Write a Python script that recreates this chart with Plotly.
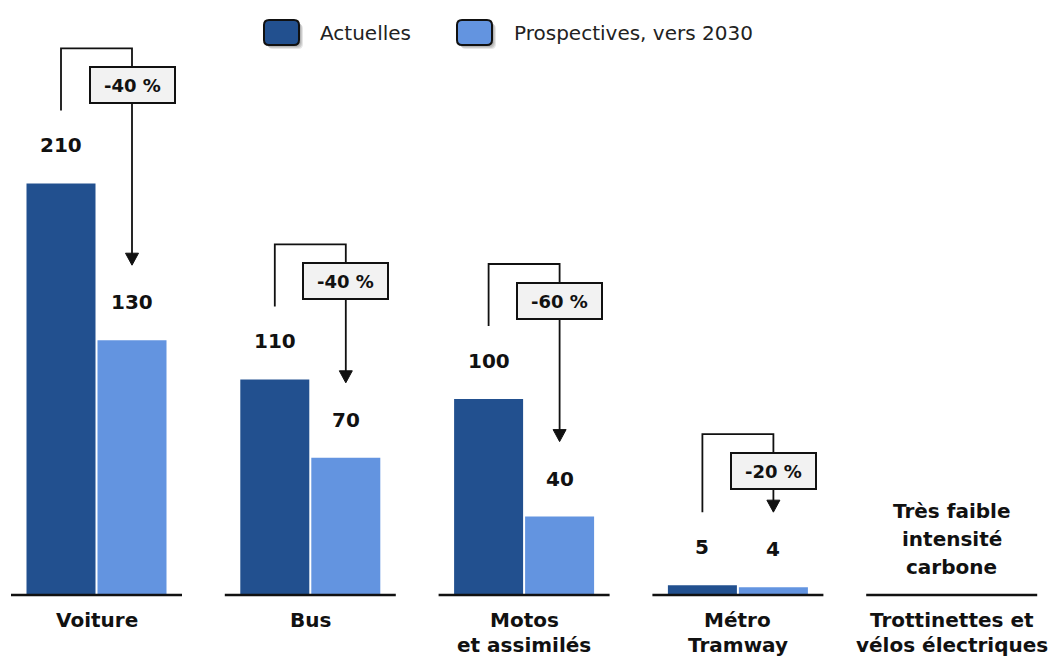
import plotly.graph_objects as go

# ---- data -------------------------------------------------------------
CATEGORIES = ["Voiture", "Bus", "Motos\net assimilés", "Métro\nTramway",
              "Trottinettes et\nvélos électriques"]
ACTUELLES = [210, 110, 100, 5]
PROSPECTIVES = [130, 70, 40, 4]
REDUCTIONS = ["-40 %", "-40 %", "-60 %", "-20 %"]
SERIES_NAMES = ["Actuelles", "Prospectives, vers 2030"]
NOTE_LINES = ["Très faible", "intensité", "carbone"]

# ---- geometry / style -------------------------------------------------
W, H = 1052, 657
COL_W = 213.8        # pixels between category centres
X_ORIGIN = 96.5      # pixel position of the first category centre
BASE_PX = 595        # pixel row of the zero line
PXU = 1.96           # pixels per unit of value

DARK = "#22508F"
LIGHT = "#6394E0"
INK = "#111111"
FONT = "DejaVu Sans"


def dx(p):
    return p / COL_W


def dy(p):
    return p / PXU


def paper_x(p):
    return p / W


def paper_y(p):
    return 1 - p / H


BAR_W = dx(69)
DARK_OFF = -dx(70)
LIGHT_OFF = dx(1)
DARK_C = DARK_OFF + BAR_W / 2
LIGHT_C = LIGHT_OFF + BAR_W / 2

fig = go.Figure()
xs = list(range(len(ACTUELLES)))
fig.add_bar(x=xs, y=ACTUELLES, width=BAR_W, offset=DARK_OFF,
            marker=dict(color=DARK, line=dict(width=0)),
            name=SERIES_NAMES[0], showlegend=False, hoverinfo="y")
fig.add_bar(x=xs, y=PROSPECTIVES, width=BAR_W, offset=LIGHT_OFF,
            marker=dict(color=LIGHT, line=dict(width=0)),
            name=SERIES_NAMES[1], showlegend=False, hoverinfo="y")

shapes = []
annotations = []

# zero line under each category
for i in range(len(CATEGORIES)):
    shapes.append(dict(type="line", xref="x", yref="y",
                       x0=i - dx(85.5), x1=i + dx(85.5), y0=0, y1=0,
                       line=dict(color=INK, width=2.5), layer="above"))

# category labels, one annotation per line
for i, label in enumerate(CATEGORIES):
    for k, line in enumerate(label.split("\n")):
        annotations.append(dict(x=i, xref="x", y=paper_y(620 + 24.5 * k),
                                yref="paper", text=line, showarrow=False,
                                xanchor="center", yanchor="middle",
                                font=dict(family=FONT, size=20, color=INK,
                                          weight="bold")))

# note above the last category
for k, line in enumerate(NOTE_LINES):
    annotations.append(dict(x=len(CATEGORIES) - 1, xref="x",
                            y=paper_y(511 + 28 * k), yref="paper",
                            text=line, showarrow=False,
                            xanchor="center", yanchor="middle",
                            font=dict(family=FONT, size=20, color=INK,
                                      weight="bold")))

# value labels
for i, (a, p) in enumerate(zip(ACTUELLES, PROSPECTIVES)):
    for xc, v in ((i + DARK_C, a), (i + LIGHT_C, p)):
        annotations.append(dict(x=xc, y=v, xref="x", yref="y", yshift=38,
                                text=str(v), showarrow=False,
                                xanchor="center", yanchor="middle",
                                font=dict(family=FONT, size=20, color=INK,
                                          weight="bold")))

# reduction brackets with arrow and boxed percentage
RISE = [62, 62, 62, 78]
for i, (a, p, lab) in enumerate(zip(ACTUELLES, PROSPECTIVES, REDUCTIONS)):
    lx = i + DARK_C
    rx = i + LIGHT_C
    y_lb = a + dy(73)
    y_top = y_lb + dy(RISE[i])
    y_tip = p + dy(75)
    shapes.append(dict(type="path", xref="x", yref="y",
                       path=f"M {lx},{y_lb} L {lx},{y_top} L {rx},{y_top} "
                            f"L {rx},{y_tip + dy(10)}",
                       line=dict(color=INK, width=1.8), layer="above"))
    shapes.append(dict(type="path", xref="x", yref="y",
                       path=f"M {rx - dx(6.5)},{y_tip + dy(12)} "
                            f"L {rx + dx(6.5)},{y_tip + dy(12)} "
                            f"L {rx},{y_tip} Z",
                       fillcolor=INK, line=dict(color=INK, width=1),
                       layer="above"))
    annotations.append(dict(x=rx, xref="x", y=y_top - dy(37), yref="y",
                            text=lab, showarrow=False,
                            xanchor="center", yanchor="middle",
                            width=81, height=32, borderpad=1,
                            bgcolor="#F2F2F2", bordercolor=INK,
                            borderwidth=2,
                            font=dict(family=FONT, size=18, color=INK,
                                      weight="bold")))


# legend: rounded swatches with a soft drop shadow
def rounded_rect(x0, y0, x1, y1, r):
    pts = [
        ("M", [(x0 + r, y0)]),
        ("L", [(x1 - r, y0)]),
        ("Q", [(x1, y0), (x1, y0 + r)]),
        ("L", [(x1, y1 - r)]),
        ("Q", [(x1, y1), (x1 - r, y1)]),
        ("L", [(x0 + r, y1)]),
        ("Q", [(x0, y1), (x0, y1 - r)]),
        ("L", [(x0, y0 + r)]),
        ("Q", [(x0, y0), (x0 + r, y0)]),
    ]
    out = []
    for cmd, coords in pts:
        out.append(cmd + " " + " ".join(
            f"{paper_x(cx):.5f},{paper_y(cy):.5f}" for cx, cy in coords))
    return " ".join(out) + " Z"


LEGEND_ITEMS = [(264, 318, DARK), (457, 512, LIGHT)]
for (sx, tx, col), name in zip(LEGEND_ITEMS, SERIES_NAMES):
    for off, op in ((4, 0.25), (3, 0.35), (2, 0.45)):
        shapes.append(dict(type="path", xref="paper", yref="paper",
                           path=rounded_rect(sx + off, 20 + off,
                                             sx + 35 + off, 45 + off, 5),
                           fillcolor="#9a9a9a", opacity=op,
                           line=dict(width=0), layer="above"))
    shapes.append(dict(type="path", xref="paper", yref="paper",
                       path=rounded_rect(sx, 20, sx + 35, 45, 5),
                       fillcolor=col, line=dict(color=INK, width=2),
                       layer="above"))
    annotations.append(dict(x=paper_x(tx), y=paper_y(33), xref="paper",
                            yref="paper", text=name, showarrow=False,
                            xanchor="left", yanchor="middle",
                            font=dict(family=FONT, size=20,
                                      color="#222222")))

fig.update_layout(
    width=W, height=H, autosize=False,
    margin=dict(l=0, r=0, t=0, b=0, pad=0),
    paper_bgcolor="white", plot_bgcolor="white",
    barmode="overlay",
    showlegend=False,
    xaxis=dict(range=[-X_ORIGIN / COL_W, (W - X_ORIGIN) / COL_W],
               visible=False, fixedrange=True),
    yaxis=dict(range=[-(H - BASE_PX) / PXU, BASE_PX / PXU],
               visible=False, fixedrange=True),
    shapes=shapes,
    annotations=annotations,
)

fig.write_html("out.html")
